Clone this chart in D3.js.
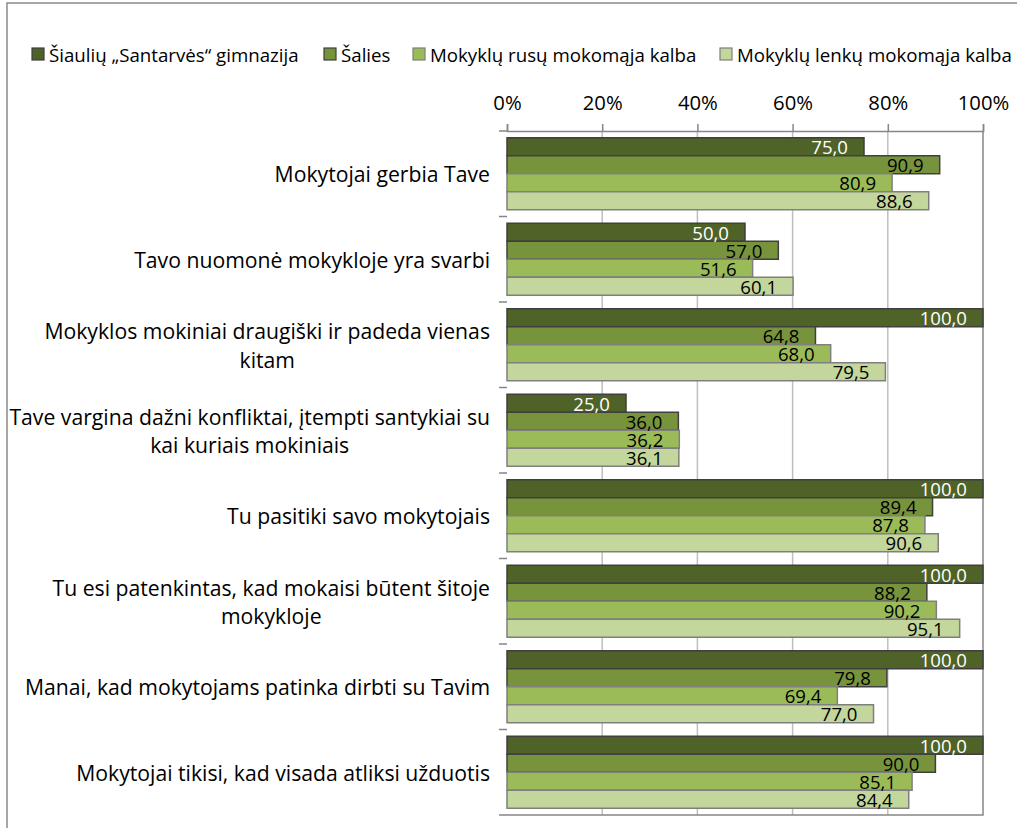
<!DOCTYPE html>
<html>
<head>
<meta charset="utf-8">
<script src="https://cdn.jsdelivr.net/npm/d3@7"></script>
<style>
  html, body { margin: 0; padding: 0; background: #fff; }
  svg { display: block; }
  text { font-family: "Open Sans", "Noto Sans", sans-serif; fill: #000; }
</style>
</head>
<body>
<svg id="chart" width="1017" height="828"></svg>
<script>
// Survey statements (wrapped lines), one group of bars per statement
const categories = [
  ["Mokytojai gerbia Tave"],
  ["Tavo nuomonė mokykloje yra svarbi"],
  ["Mokyklos mokiniai draugiški ir padeda vienas", "kitam"],
  ["Tave vargina dažni konfliktai, įtempti santykiai su", "kai kuriais mokiniais"],
  ["Tu pasitiki savo mokytojais"],
  ["Tu esi patenkintas, kad mokaisi būtent šitoje", "mokykloje"],
  ["Manai, kad mokytojams patinka dirbti su Tavim"],
  ["Mokytojai tikisi, kad visada atliksi užduotis"]
];

const seriesNames = [
  "Šiaulių „Santarvės“ gimnazija",
  "Šalies",
  "Mokyklų rusų mokomąja kalba",
  "Mokyklų lenkų mokomąja kalba"
];

// Percent values per series, in category order
const gimnazija = [75.0, 50.0, 100.0, 25.0, 100.0, 100.0, 100.0, 100.0];
const salies    = [90.9, 57.0, 64.8, 36.0, 89.4, 88.2, 79.8, 90.0];
const rusu      = [80.9, 51.6, 68.0, 36.2, 87.8, 90.2, 69.4, 85.1];
const lenku     = [88.6, 60.1, 79.5, 36.1, 90.6, 95.1, 77.0, 84.4];

const seriesValues = [gimnazija, salies, rusu, lenku];

const tickValues = [0, 20, 40, 60, 80, 100];

const fills   = ["#4F6228", "#77933C", "#9BBB59", "#C3D69B"];
const strokes = ["#3F3F3F", "#404040", "#7F7F7F", "#7F7F7F"];
const labelColors = ["#FFFFFF", "#000000", "#000000", "#000000"];

const svg = d3.select("#chart");

// outer chart frame
svg.append("rect")
  .attr("x", 7).attr("y", 3)
  .attr("width", 1030).attr("height", 840)
  .attr("fill", "#fff")
  .attr("stroke", "#8A8A8A").attr("stroke-width", 1.5);

const plot = { left: 507, right: 983, top: 131, bottom: 815 };

const x = d3.scaleLinear().domain([0, 100]).range([plot.left, plot.right]);
const y0 = d3.scaleBand()
  .domain(d3.range(categories.length))
  .range([plot.top, plot.bottom])
  .paddingInner(0.158).paddingOuter(0.079);
const y1 = d3.scaleBand()
  .domain(d3.range(seriesNames.length))
  .range([0, y0.bandwidth()]);

// vertical gridlines
svg.append("g")
  .selectAll("line")
  .data(tickValues.slice(1, -1))
  .join("line")
  .attr("x1", d => x(d)).attr("x2", d => x(d))
  .attr("y1", plot.top).attr("y2", plot.bottom)
  .attr("stroke", "#BEBEBE").attr("stroke-width", 1.5);

// plot area right/bottom edges
svg.append("path")
  .attr("d", `M${plot.right},${plot.top}V${plot.bottom}H${plot.left}`)
  .attr("fill", "none")
  .attr("stroke", "#868686").attr("stroke-width", 1.5);

// top value axis
const xAxis = svg.append("g")
  .attr("transform", `translate(0,${plot.top})`)
  .call(d3.axisTop(x).tickValues(tickValues).tickFormat(d => d + "%").tickSize(7).tickPadding(14));
xAxis.select(".domain").attr("stroke", "#868686").attr("stroke-width", 1.5);
xAxis.selectAll(".tick line").attr("stroke", "#868686").attr("stroke-width", 1.5);
xAxis.selectAll(".tick text")
  .attr("font-size", 20.3)
  .attr("font-family", "'Open Sans', 'Noto Sans', sans-serif")
  .attr("fill", "#000");

// left category axis: boundary ticks
const boundaries = d3.range(categories.length + 1).map(i =>
  plot.top + i * (plot.bottom - plot.top) / categories.length);
svg.append("g")
  .selectAll("line")
  .data(boundaries)
  .join("line")
  .attr("x1", plot.left - 8).attr("x2", plot.left)
  .attr("y1", d => d).attr("y2", d => d)
  .attr("stroke", "#868686").attr("stroke-width", 1.5);

// bars
const groups = svg.append("g")
  .selectAll("g")
  .data(categories.map((c, i) => i))
  .join("g")
  .attr("transform", i => `translate(0,${y0(i)})`);

groups.selectAll("rect")
  .data(i => seriesValues.map((vals, s) => ({ s, v: vals[i] })))
  .join("rect")
  .attr("x", plot.left)
  .attr("y", d => y1(d.s))
  .attr("width", d => x(d.v) - plot.left)
  .attr("height", y1.bandwidth())
  .attr("fill", d => fills[d.s])
  .attr("stroke", d => strokes[d.s])
  .attr("stroke-width", 1.5);

// value labels inside the bar end
groups.selectAll("text")
  .data(i => seriesValues.map((vals, s) => ({ s, v: vals[i] })))
  .join("text")
  .attr("x", d => x(d.v) - 16)
  .attr("y", d => y1(d.s) + y1.bandwidth() - 1.5)
  .attr("text-anchor", "end")
  .attr("font-size", 18.6)
  .style("fill", d => labelColors[d.s])
  .text(d => d.v.toFixed(1).replace(".", ","));

// category labels, right-aligned block with centred lines
const lineH = 28.5;
const catLabels = svg.append("g")
  .selectAll("g")
  .data(categories)
  .join("g")
  .attr("transform", (c, i) => `translate(490,${y0(i) + y0.bandwidth() / 2})`);

catLabels.each(function(lines) {
  const g = d3.select(this);
  const texts = g.selectAll("text")
    .data(lines)
    .join("text")
    .attr("font-size", 21.2)
    .attr("dominant-baseline", "central")
    .attr("y", (d, k) => (k - (lines.length - 1) / 2) * lineH)
    .text(d => d);
  const widths = texts.nodes().map(n => n.getComputedTextLength());
  const maxW = d3.max(widths);
  texts.attr("text-anchor", "middle").attr("x", -maxW / 2);
});

// legend
const legend = svg.append("g").attr("transform", "translate(32,54)");
const legendX = [0, 292, 381, 688];
const items = legend.selectAll("g")
  .data(seriesNames)
  .join("g")
  .attr("transform", (d, i) => `translate(${legendX[i]},0)`);
items.append("rect")
  .attr("x", 0).attr("y", -6)
  .attr("width", 12).attr("height", 12)
  .attr("fill", (d, i) => fills[i])
  .attr("stroke", (d, i) => strokes[i]).attr("stroke-width", 1.2);
items.append("text")
  .attr("x", 17).attr("y", 0)
  .attr("dominant-baseline", "central")
  .attr("font-size", 18.7)
  .text(d => d);
</script>
</body>
</html>
